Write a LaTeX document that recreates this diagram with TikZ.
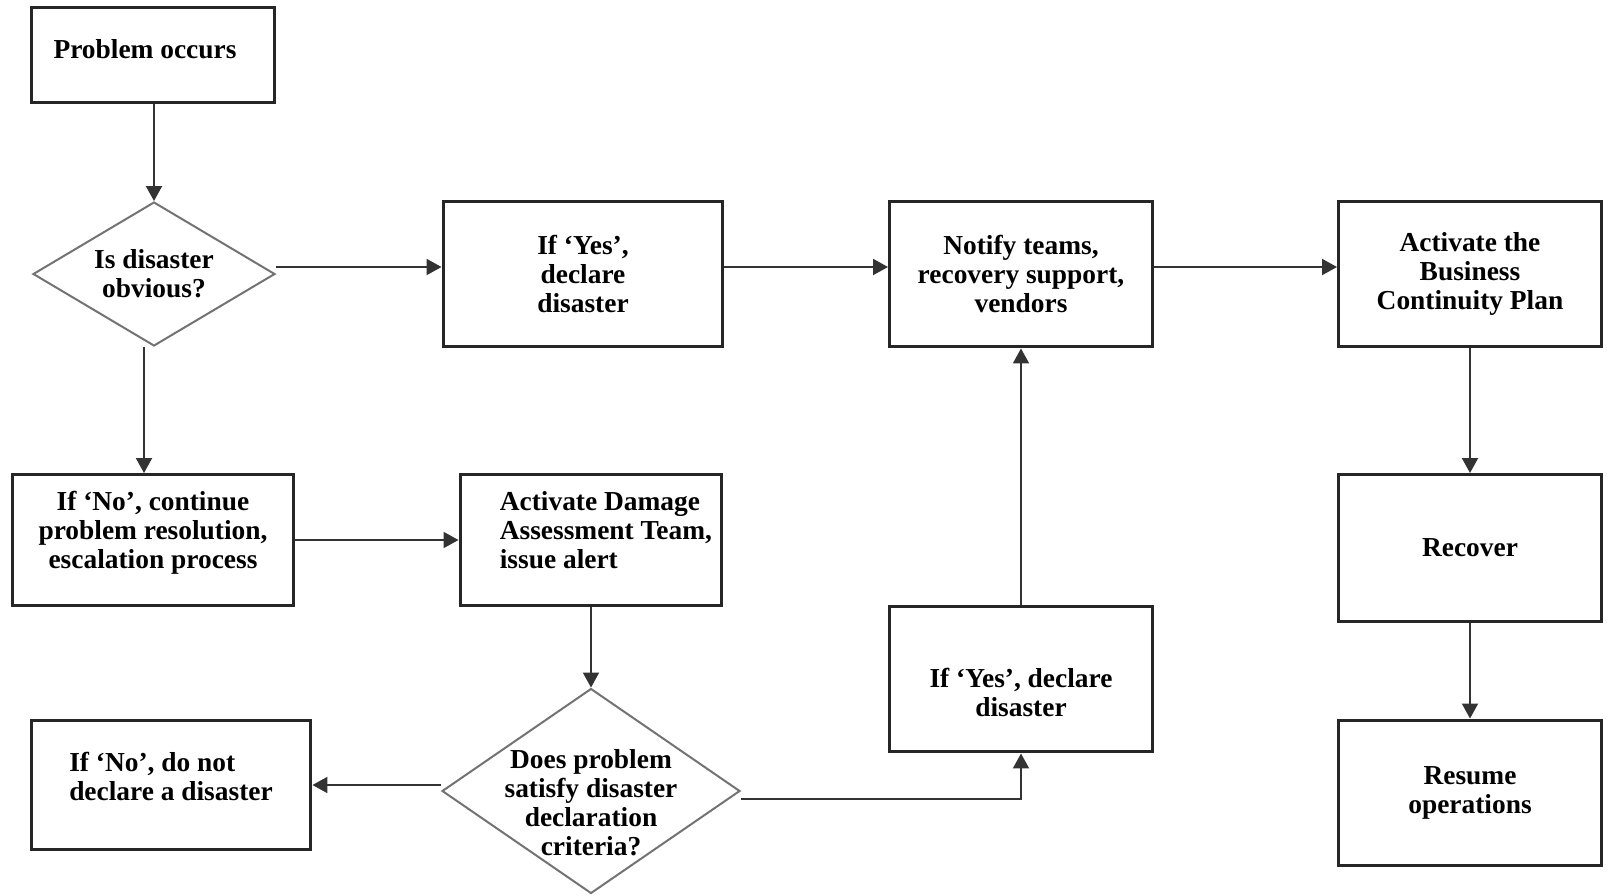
\documentclass[tikz,border=0pt]{standalone}
\usepackage{fontspec}
\setmainfont{Liberation Serif}
\usetikzlibrary{positioning,shapes.geometric,arrows.meta}

\tikzset{
	box/.style={draw=black!85,line width=0.06cm,fill=white,align=center,inner sep=0pt},
	decision/.style={diamond,draw=black!55,line width=0.04cm,fill=white,inner sep=0pt},
	arr/.style={draw=black!80,line width=0.04cm,-{Triangle[length=0.3cm,width=0.32cm]}}
}

\begin{document}
\begin{tikzpicture}[x=0.02cm,y=-0.02cm,font=\bfseries\fontsize{15.6}{16.5}\selectfont]
\useasboundingbox (0,0) rectangle (1610,896);
% left column
\node[box,minimum width=4.88cm,minimum height=1.9cm,label={[xshift=-0.16cm,yshift=0.12cm]center:Problem occurs}] (problem) at (153,55) {};
\node[decision,minimum width=4.84cm,minimum height=2.88cm,label={[align=center]center:Is disaster\\obvious?}] (obvious) at (154,274) {};
\node[box,minimum width=5.64cm,minimum height=2.62cm,label={[align=center,yshift=0.14cm]center:If ‘No’, continue\\problem resolution,\\escalation process}] (noprocess) at (153,540) {};
\node[box,minimum width=5.6cm,minimum height=2.6cm,label={[align=left,yshift=0.18cm]center:If ‘No’, do not\\declare a disaster}] (nodeclare) at (171,785) {};
% middle
\node[box,minimum width=5.6cm,minimum height=2.92cm] (declare) at (583,274) {If ‘Yes’,\\declare\\disaster};
\node[box,minimum width=5.24cm,minimum height=2.62cm] (damage) at (591,540) {};
\node[anchor=west,align=left,inner sep=0pt] (damagetext) at ([xshift=0.82cm,yshift=0.2cm]damage.west) {Activate Damage\\Assessment Team,\\issue alert};
\node[decision,minimum width=5.96cm,minimum height=4.1cm,label={[align=center,yshift=-0.24cm]center:Does problem\\satisfy disaster\\declaration\\criteria?}] (criteria) at (591,791) {};
\node[box,minimum width=5.26cm,minimum height=2.92cm] (notify) at (1021,274) {Notify teams,\\recovery support,\\vendors};
\node[box,minimum width=5.26cm,minimum height=2.92cm,label={[align=center,yshift=-0.26cm]center:If ‘Yes’, declare\\disaster}] (declaretwo) at (1021,679) {};
% right column
\node[box,minimum width=5.26cm,minimum height=2.92cm] (bcp) at (1470,274) {Activate the\\Business\\Continuity Plan};
\node[box,minimum width=5.26cm,minimum height=2.94cm] (recover) at (1470,548) {Recover};
\node[box,minimum width=5.26cm,minimum height=2.92cm] (resume) at (1470,793) {Resume\\operations};
% connectors
\draw[arr] (problem.south -| obvious.north) -- (obvious.north);
\draw[arr] ([xshift=-0.2cm]obvious.south) -- ([xshift=-0.2cm]obvious.south |- noprocess.north);
\draw[arr] ([yshift=0.14cm]obvious.east) -- ([yshift=0.14cm]declare.west);
\draw[arr] ([yshift=0.14cm]declare.east) -- ([yshift=0.14cm]notify.west);
\draw[arr] ([yshift=0.14cm]notify.east) -- ([yshift=0.14cm]bcp.west);
\foreach \a/\b in {noprocess/damage,damage/criteria,declaretwo/notify,bcp/recover,recover/resume}
	\draw[arr] (\a) -- (\b);
\draw[arr] (criteria.west |- nodeclare.east) -- (nodeclare.east);
\draw[arr] ([yshift=-0.16cm]criteria.east) -| (declaretwo.south);
\end{tikzpicture}
\end{document}
